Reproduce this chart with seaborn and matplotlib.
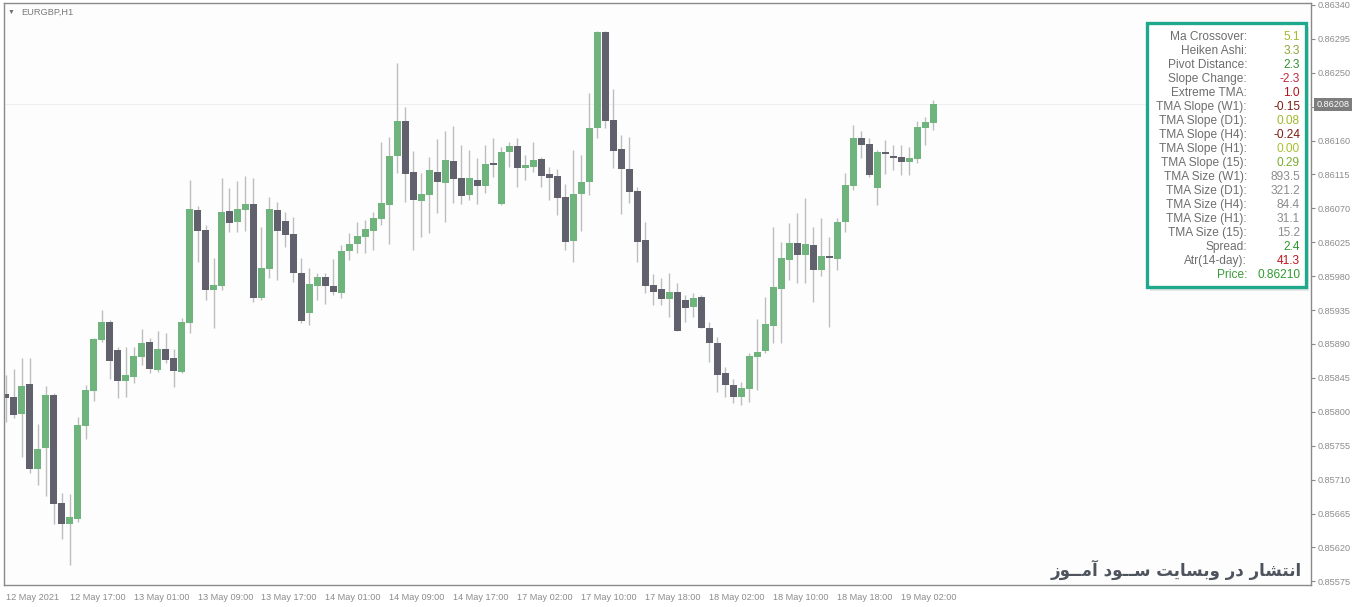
import numpy as np
import pandas as pd
import seaborn as sns
import matplotlib.pyplot as plt
from matplotlib.patches import Rectangle

# EURGBP H1 bars (first bar = 12 May 09:00)
opens = [0.85824, 0.85820, 0.85797, 0.85837, 0.85724, 0.85752, 0.85822, 0.85679, 0.85651, 0.85658,
         0.85781, 0.85828, 0.85895, 0.85919, 0.85882, 0.85841, 0.85846, 0.85873, 0.85893, 0.85855,
         0.85883, 0.85871, 0.85853, 0.85918, 0.86068, 0.86041, 0.85962, 0.85967, 0.86067, 0.86052,
         0.86068, 0.86076, 0.85951, 0.85990, 0.86068, 0.86053, 0.86036, 0.85984, 0.85931, 0.85967,
         0.85979, 0.85967, 0.85958, 0.86013, 0.86023, 0.86032, 0.86040, 0.86056, 0.86074, 0.86140,
         0.86186, 0.86118, 0.86080, 0.86088, 0.86118, 0.86104, 0.86133, 0.86110, 0.86088, 0.86108,
         0.86100, 0.86130, 0.86076, 0.86145, 0.86153, 0.86124, 0.86125, 0.86136, 0.86116, 0.86113,
         0.86085, 0.86027, 0.86089, 0.86105, 0.86177, 0.86304, 0.86187, 0.86149, 0.86122, 0.86093,
         0.86028, 0.85968, 0.85963, 0.85950, 0.85959, 0.85948, 0.85939, 0.85952, 0.85911, 0.85891,
         0.85851, 0.85836, 0.85820, 0.85830, 0.85873, 0.85881, 0.85914, 0.85963, 0.86001, 0.86024,
         0.86008, 0.86021, 0.85988, 0.86007, 0.86003, 0.86052, 0.86100, 0.86163, 0.86155, 0.86097,
         0.86145, 0.86140, 0.86138, 0.86132, 0.86136, 0.86177, 0.86183]
highs = [0.85849, 0.85857, 0.85871, 0.85871, 0.85784, 0.85834, 0.85825, 0.85692, 0.85691, 0.85793,
         0.85836, 0.85898, 0.85935, 0.85922, 0.85886, 0.85886, 0.85886, 0.85910, 0.85898, 0.85907,
         0.85905, 0.85883, 0.85924, 0.86108, 0.86073, 0.86048, 0.86004, 0.86110, 0.86097, 0.86106,
         0.86113, 0.86110, 0.86045, 0.86085, 0.86078, 0.86065, 0.86059, 0.86004, 0.85991, 0.85984,
         0.85984, 0.86003, 0.86021, 0.86037, 0.86052, 0.86055, 0.86065, 0.86158, 0.86165, 0.86263,
         0.86205, 0.86146, 0.86117, 0.86138, 0.86162, 0.86173, 0.86179, 0.86154, 0.86147, 0.86137,
         0.86154, 0.86163, 0.86151, 0.86158, 0.86163, 0.86141, 0.86158, 0.86138, 0.86125, 0.86122,
         0.86102, 0.86147, 0.86141, 0.86223, 0.86305, 0.86305, 0.86228, 0.86167, 0.86165, 0.86098,
         0.86052, 0.85983, 0.85978, 0.85984, 0.85971, 0.85955, 0.85958, 0.85955, 0.85919, 0.85899,
         0.85859, 0.85844, 0.85840, 0.85878, 0.85923, 0.85952, 0.86045, 0.86025, 0.86051, 0.86064,
         0.86084, 0.86045, 0.86057, 0.86032, 0.86057, 0.86117, 0.86181, 0.86173, 0.86163, 0.86147,
         0.86161, 0.86154, 0.86154, 0.86151, 0.86186, 0.86191, 0.86214]
lows = [0.85786, 0.85792, 0.85740, 0.85719, 0.85703, 0.85688, 0.85651, 0.85631, 0.85597, 0.85654,
        0.85764, 0.85814, 0.85893, 0.85844, 0.85818, 0.85820, 0.85838, 0.85862, 0.85851, 0.85853,
        0.85865, 0.85833, 0.85851, 0.85905, 0.85999, 0.85948, 0.85911, 0.85962, 0.86039, 0.86039,
        0.86040, 0.85946, 0.85948, 0.85978, 0.85975, 0.86019, 0.85972, 0.85918, 0.85915, 0.85948,
        0.85943, 0.85955, 0.85951, 0.86001, 0.86011, 0.86011, 0.86015, 0.86048, 0.86023, 0.86117,
        0.86078, 0.86015, 0.86032, 0.86037, 0.86064, 0.86052, 0.86077, 0.86076, 0.86081, 0.86076,
        0.86090, 0.86112, 0.86074, 0.86125, 0.86098, 0.86108, 0.86118, 0.86098, 0.86081, 0.86061,
        0.86015, 0.85999, 0.86040, 0.86088, 0.86163, 0.86177, 0.86124, 0.86063, 0.86077, 0.85999,
        0.85958, 0.85942, 0.85942, 0.85926, 0.85907, 0.85919, 0.85926, 0.85911, 0.85866, 0.85826,
        0.85820, 0.85812, 0.85809, 0.85813, 0.85829, 0.85878, 0.85891, 0.85891, 0.85975, 0.85971,
        0.85971, 0.85946, 0.85980, 0.85913, 0.85988, 0.86039, 0.86094, 0.86137, 0.86112, 0.86074,
        0.86116, 0.86121, 0.86114, 0.86114, 0.86130, 0.86154, 0.86174]
closes = [0.85818, 0.85796, 0.85834, 0.85724, 0.85751, 0.85822, 0.85678, 0.85651, 0.85660, 0.85782,
          0.85829, 0.85897, 0.85919, 0.85867, 0.85841, 0.85849, 0.85874, 0.85891, 0.85857, 0.85883,
          0.85869, 0.85854, 0.85919, 0.86069, 0.86040, 0.85962, 0.85968, 0.86065, 0.86051, 0.86069,
          0.86076, 0.85951, 0.85991, 0.86069, 0.86040, 0.86035, 0.85984, 0.85920, 0.85970, 0.85979,
          0.85967, 0.85959, 0.86013, 0.86023, 0.86033, 0.86043, 0.86057, 0.86077, 0.86140, 0.86186,
          0.86116, 0.86081, 0.86089, 0.86121, 0.86105, 0.86134, 0.86109, 0.86086, 0.86110, 0.86100,
          0.86129, 0.86128, 0.86145, 0.86153, 0.86124, 0.86128, 0.86134, 0.86113, 0.86110, 0.86084,
          0.86025, 0.86089, 0.86105, 0.86177, 0.86304, 0.86186, 0.86146, 0.86122, 0.86092, 0.86025,
          0.85967, 0.85959, 0.85950, 0.85959, 0.85907, 0.85938, 0.85951, 0.85911, 0.85891, 0.85849,
          0.85836, 0.85820, 0.85832, 0.85874, 0.85879, 0.85917, 0.85966, 0.86004, 0.86024, 0.86008,
          0.86023, 0.85988, 0.86007, 0.86004, 0.86052, 0.86101, 0.86163, 0.86154, 0.86114, 0.86145,
          0.86142, 0.86137, 0.86132, 0.86137, 0.86178, 0.86185, 0.86208]

time_labels = ["12 May 2021", "12 May 17:00", "13 May 01:00", "13 May 09:00", "13 May 17:00",
               "14 May 01:00", "14 May 09:00", "14 May 17:00", "17 May 02:00", "17 May 10:00",
               "17 May 18:00", "18 May 02:00", "18 May 10:00", "18 May 18:00", "19 May 02:00"]
price_ticks = [0.85575 + 0.00045 * k for k in range(18)]

panel_labels = ["Ma Crossover:", "Heiken Ashi:", "Pivot Distance:", "Slope Change:", "Extreme TMA:",
                "TMA Slope (W1):", "TMA Slope (D1):", "TMA Slope (H4):", "TMA Slope (H1):",
                "TMA Slope (15):", "TMA Size (W1):", "TMA Size (D1):", "TMA Size (H4):",
                "TMA Size (H1):", "TMA Size (15):", "Spread:", "Atr(14-day):", "Price:"]
panel_values = ["5.1", "3.3", "2.3", "-2.3", "1.0", "-0.15", "0.08", "-0.24", "0.00", "0.29",
                "893.5", "321.2", "84.4", "31.1", "15.2", "2.4", "41.3", "0.86210"]
panel_colors = ["#a3b82c", "#8da531", "#34902f", "#c5283a", "#b3141a", "#7d1d14", "#a3b82c",
                "#7d1d14", "#a9c030", "#78ad2f", "#8c8c8c", "#8c8c8c", "#8c8c8c", "#8c8c8c",
                "#8c8c8c", "#2f962f", "#c0141e", "#2f9a2f"]

watermark = "انتشار در وبسایت ســود آمــوز"

# arabic presentation forms: isolated, final, initial, medial
FORMS = {
    'ا': ('\uFE8D', '\uFE8E', None, None),
    'آ': ('\uFE81', '\uFE82', None, None),
    'ب': ('\uFE8F', '\uFE90', '\uFE91', '\uFE92'),
    'ت': ('\uFE95', '\uFE96', '\uFE97', '\uFE98'),
    'د': ('\uFEA9', '\uFEAA', None, None),
    'ر': ('\uFEAD', '\uFEAE', None, None),
    'ز': ('\uFEAF', '\uFEB0', None, None),
    'س': ('\uFEB1', '\uFEB2', '\uFEB3', '\uFEB4'),
    'ش': ('\uFEB5', '\uFEB6', '\uFEB7', '\uFEB8'),
    'م': ('\uFEE1', '\uFEE2', '\uFEE3', '\uFEE4'),
    'ن': ('\uFEE5', '\uFEE6', '\uFEE7', '\uFEE8'),
    'و': ('\uFEED', '\uFEEE', None, None),
    'ی': ('\uFBFC', '\uFBFD', '\uFEF3', '\uFEF4'),
    'ـ': ('\u0640', '\u0640', '\u0640', '\u0640'),
}


def shape_rtl(text):
    out = []
    for i, ch in enumerate(text):
        f = FORMS.get(ch)
        if f is None:
            out.append(ch)
            continue
        prev = text[i - 1] if i > 0 else ''
        nxt = text[i + 1] if i + 1 < len(text) else ''
        joins_prev = prev in FORMS and FORMS[prev][2] is not None
        joins_next = f[2] is not None and nxt in FORMS
        if joins_prev and joins_next:
            out.append(f[3])
        elif joins_prev:
            out.append(f[1])
        elif joins_next:
            out.append(f[2])
        else:
            out.append(f[0])
    return ''.join(reversed(out))


sns.set_theme(style="white")
plt.rcParams['font.family'] = ['Liberation Sans', 'DejaVu Sans']

df = pd.DataFrame({'open': opens, 'high': highs, 'low': lows, 'close': closes})
df['x'] = np.arange(len(df))
df['up'] = df['close'] >= df['open']

W, H = 1360, 607
fig = plt.figure(figsize=(W / 100, H / 100), dpi=100)
fig.patch.set_facecolor('white')
ax = fig.add_axes([4 / W, 22 / H, 1307 / W, 582 / H])
ax.set_facecolor('#fdfdfe')

green, dark, wick = '#6fb37d', '#61616d', '#bdbdbd'

ax.vlines(df['x'], df['low'], df['high'], color=wick, lw=1, zorder=1)
body = (df['close'] - df['open']).abs().clip(lower=0.000012)
bottom = df[['open', 'close']].min(axis=1)
ax.bar(df['x'], body, bottom=bottom, width=0.84, linewidth=0,
       color=np.where(df['up'], green, dark), zorder=2)
ax.axhline(closes[-1], color='#efeff2', lw=0.8, zorder=0)

ax.set_xlim(-0.19, 163.2)
ax.set_ylim(0.855701, 0.863426)

ax.set_xticks(np.arange(0, 8 * len(time_labels), 8))
ax.set_xticklabels(time_labels)
for lab in ax.get_xticklabels():
    lab.set_ha('left')
ax.yaxis.tick_right()
ax.set_yticks(price_ticks)
# the tick hidden under the current-price tag keeps its mark but not its label
ax.set_yticklabels(["" if abs(p - closes[-1]) < 0.0002 else f"{p:.5f}" for p in price_ticks])
ax.tick_params(axis='both', which='major', length=3, width=0.8, color='#8a8a8a',
               labelcolor='#8c8c8c', labelsize=6.6, pad=2, direction='out')
ax.tick_params(axis='x', pad=3)
for s in ax.spines.values():
    s.set_color('#8a8a8a')
    s.set_linewidth(1)

# current price tag on the price scale
ax.annotate(f"{closes[-1]:.5f}", xy=(1.0, closes[-1]), xycoords=('axes fraction', 'data'),
            xytext=(4, 0), textcoords='offset points', ha='left', va='center',
            fontsize=6.6, color='white',
            bbox=dict(boxstyle='square,pad=0.25', fc='#7d7d7d', ec='none'))

fig.text(8 / W, 1 - 12 / H, "\u25BC", fontsize=5, color='#707070', va='center')
fig.text(21 / W, 1 - 12 / H, "EURGBP,H1", fontsize=6.7, color='#7a7a7a', va='center')

# indicator panel
px0, py0, px1, py1 = 1147, 23, 1306, 287
fig.add_artist(Rectangle(((px0 + 3) / W, 1 - (py1 + 4) / H), (px1 - px0) / W, (py1 - py0) / H,
                         transform=fig.transFigure, fc='#d8d8d8', ec='none', alpha=0.6, zorder=3))
fig.add_artist(Rectangle((px0 / W, 1 - py1 / H), (px1 - px0) / W, (py1 - py0) / H,
                         transform=fig.transFigure, fc='white', ec='#1ea88c', lw=2.4, zorder=4))
for i, (lab, val, col) in enumerate(zip(panel_labels, panel_values, panel_colors)):
    yy = 1 - (36.7 + 14.02 * i) / H
    lcol = '#3a9a3a' if lab == "Price:" else '#6e6e6e'
    fig.text(1247 / W, yy, lab, ha='right', va='center', fontsize=8.6, color=lcol, zorder=5)
    fig.text(1300 / W, yy, val, ha='right', va='center', fontsize=8.6, color=col, zorder=5)

fig.text(1302 / W, 1 - 570 / H, shape_rtl(watermark), ha='right', va='center',
         fontsize=12, fontweight='bold', color='#4e545d',
         family=['DejaVu Sans', 'Noto Sans'])

fig.savefig('out.png', dpi=100, facecolor=fig.get_facecolor())
